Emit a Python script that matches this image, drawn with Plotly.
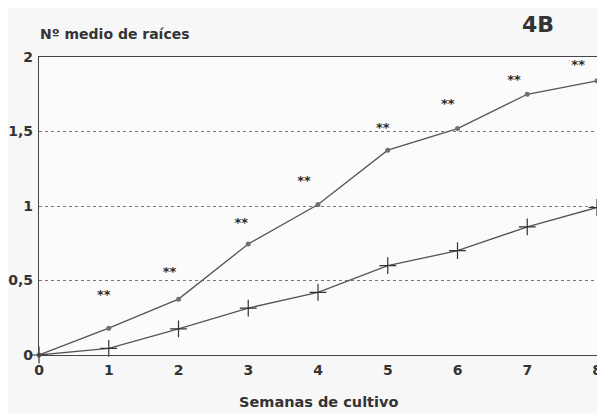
import plotly.graph_objects as go

semanas = [0, 1, 2, 3, 4, 5, 6, 7, 8]
serie_circulos = [0.0, 0.18, 0.375, 0.745, 1.01, 1.375, 1.52, 1.75, 1.84]
serie_cruces = [0.0, 0.045, 0.175, 0.315, 0.42, 0.60, 0.70, 0.86, 0.99]
asteriscos_x = [0.93, 1.87, 2.9, 3.8, 4.93, 5.86, 6.81, 7.73]
asteriscos_y = [0.40, 0.55, 0.88, 1.16, 1.52, 1.68, 1.84, 1.94]
y_ticks = [0, 0.5, 1, 1.5, 2]
y_tick_labels = ["0", "0,5", "1", "1,5", "2"]
x_ticks = [0, 1, 2, 3, 4, 5, 6, 7, 8]

line_col = "#555555"
txt_col = "#333333"
font_fam = "DejaVu Sans, sans-serif"

fig = go.Figure()
fig.add_trace(go.Scatter(
    x=semanas, y=serie_circulos, mode="lines+markers",
    line=dict(color=line_col, width=1.3),
    marker=dict(symbol="circle", size=5, color="#707070"),
    cliponaxis=False, showlegend=False))
fig.add_trace(go.Scatter(
    x=semanas, y=serie_cruces, mode="lines+markers",
    line=dict(color=line_col, width=1.3),
    marker=dict(symbol="cross-thin", size=12, line=dict(color="#333333", width=1.2)),
    cliponaxis=False, showlegend=False))
fig.add_trace(go.Scatter(
    x=asteriscos_x, y=asteriscos_y, mode="text", text=["<b>**</b>"] * len(asteriscos_x),
    textfont=dict(family=font_fam, size=13, color="#2a2a2a"),
    cliponaxis=False, showlegend=False))

axis_common = dict(showline=True, linecolor="#444444", linewidth=1.2, mirror=True,
                   ticks="", zeroline=False, automargin=False,
                   tickfont=dict(family=font_fam, size=14, color=txt_col))
fig.update_xaxes(range=[0, 8], tickvals=x_ticks,
                 ticktext=["<b>%d</b>" % v for v in x_ticks],
                 showgrid=False, ticklabelstandoff=2, **axis_common)
fig.update_yaxes(range=[0, 2], tickvals=y_ticks,
                 ticktext=["<b>" + t + "</b>" for t in y_tick_labels],
                 showgrid=True, gridcolor="#777777", griddash="dot", gridwidth=1,
                 ticklabelstandoff=2, **axis_common)

fig.add_annotation(text="<b>Semanas de cultivo</b>", xref="paper", yref="paper",
                   x=0.5, y=0, xanchor="center", yanchor="middle", yshift=-47,
                   showarrow=False, font=dict(family=font_fam, size=14.5, color=txt_col))
fig.add_annotation(text="<b>Nº medio de raíces</b>", xref="paper", yref="paper",
                   x=0, y=1, xanchor="left", yanchor="middle", yshift=23, xshift=-1,
                   showarrow=False, font=dict(family=font_fam, size=14, color=txt_col))
fig.add_annotation(text="<b>4B</b>", xref="paper", yref="paper",
                   x=0.894, y=1, xanchor="center", yanchor="middle", yshift=33,
                   showarrow=False, font=dict(family=font_fam, size=22, color=txt_col))

# the page body keeps its default 8px margin, so the figure is drawn 8px
# right and down of the window corner; size and margins compensate for that
fig.update_layout(width=597, height=405,
                  margin=dict(l=31, r=8, t=49, b=58),
                  paper_bgcolor="#f7f7f7", plot_bgcolor="#fbfbfb")
fig.write_html("out.html")
